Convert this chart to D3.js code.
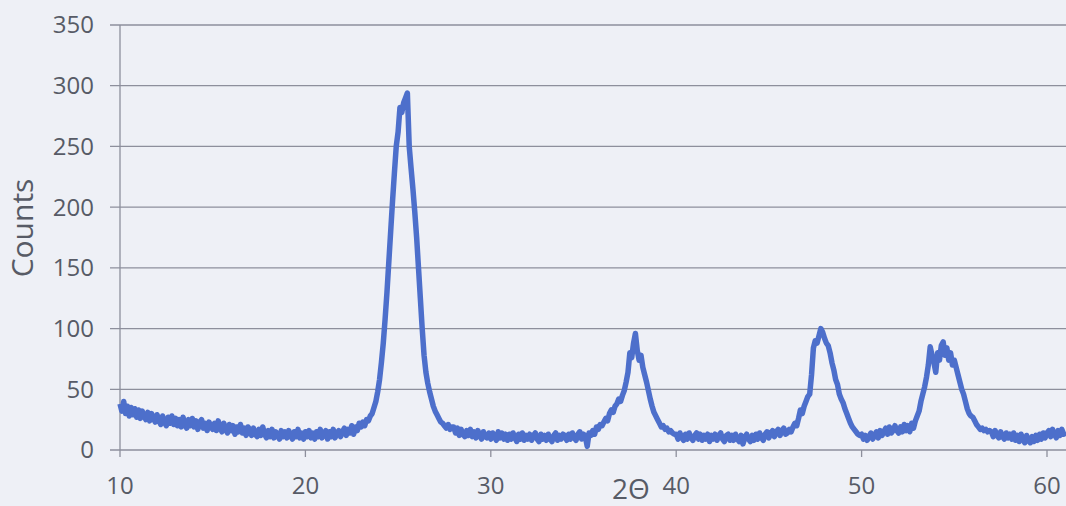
<!DOCTYPE html>
<html>
<head>
<meta charset="utf-8">
<script src="https://cdn.jsdelivr.net/npm/d3@7"></script>
<style>
  html, body { margin: 0; padding: 0; background: #eef0f6; }
  svg { display: block; }
  text { font-family: "Open Sans", sans-serif; fill: #575b66; }
</style>
</head>
<body>
<svg id="chart"></svg>
<script>
// XRD scan, 2theta from 10 to 61 in 0.1 deg steps (one row = one degree)
const thetaStart = 10;
const thetaStep = 0.1;
const counts = [
  38, 32, 40, 30, 36, 28, 35, 29, 34, 27,
  33, 26, 32, 28, 25, 31, 24, 30, 26, 23,
  29, 24, 21, 28, 23, 20, 27, 22, 28, 21,
  26, 20, 25, 19, 27, 21, 18, 25, 20, 26,
  19, 24, 17, 23, 25, 18, 22, 16, 23, 19,
  17, 22, 16, 24, 18, 15, 22, 17, 14, 21,
  16, 20, 13, 19, 15, 21, 14, 18, 12, 19,
  17, 12, 18, 13, 11, 17, 12, 19, 13, 10,
  16, 11, 17, 10, 15, 12, 9, 16, 11, 15,
  10, 16, 12, 9, 15, 11, 17, 10, 14, 9,
  15, 11, 16, 10, 14, 9, 15, 11, 17, 10,
  14, 16, 9, 15, 11, 17, 10, 14, 16, 11,
  15, 18, 12, 17, 14, 20, 13, 19, 16, 22,
  19, 23, 20, 25, 24, 28, 30, 35, 40, 48,
  58, 72, 88, 108, 130, 155, 180, 205, 228, 250,
  262, 282, 278, 286, 290, 294, 250, 232, 215, 196,
  175, 150, 125, 100, 78, 64, 55, 48, 42, 36,
  32, 29, 26, 23, 22, 20, 18, 21, 17, 19,
  19, 14, 18, 12, 17, 13, 11, 16, 12, 17,
  11, 15, 10, 16, 12, 9, 15, 11, 10, 14,
  9, 14, 11, 8, 15, 10, 14, 9, 13, 8,
  13, 9, 14, 10, 7, 13, 9, 14, 8, 12,
  9, 13, 8, 12, 14, 9, 7, 13, 9, 12,
  8, 13, 9, 7, 12, 14, 8, 12, 9, 13,
  12, 8, 13, 9, 14, 10, 8, 13, 15, 9,
  13, 11, 3, 14, 12, 16, 13, 19, 17, 21,
  20, 23, 26, 24, 30, 33, 31, 36, 38, 42,
  40, 45, 49, 56, 64, 80, 76, 88, 96, 82,
  74, 78, 68, 62, 56, 49, 42, 36, 31, 28,
  25, 22, 19, 20, 17, 18, 15, 16, 14, 13,
  13, 9, 14, 10, 8, 13, 9, 14, 10, 8,
  12, 14, 9, 13, 8, 12, 9, 13, 7, 12,
  9, 13, 8, 12, 14, 9, 7, 12, 13, 8,
  12, 8, 13, 9, 7, 12, 5, 10, 13, 9,
  7, 12, 8, 13, 9, 14, 10, 8, 13, 15,
  10, 14, 16, 11, 15, 17, 12, 16, 18, 13,
  14, 17, 15, 19, 22, 20, 26, 33, 30, 36,
  40, 44, 46, 62, 84, 90, 88, 94, 100, 97,
  92, 88, 86, 80, 72, 66, 58, 54, 46, 42,
  39, 34, 30, 26, 22, 19, 17, 15, 13, 12,
  13, 9, 12, 8, 11, 14, 9, 12, 15, 10,
  16, 12, 15, 18, 13, 19, 14, 16, 20, 16,
  14, 19, 15, 21, 16, 20, 15, 22, 18, 24,
  28, 32, 40, 46, 52, 60, 70, 85, 78, 72,
  64, 80, 74, 86, 89, 78, 84, 74, 80, 70,
  74, 68, 62, 56, 50, 46, 40, 34, 30, 28,
  27, 24, 21, 19, 17, 18, 16, 17, 15, 16,
  15, 11, 16, 12, 10, 15, 11, 9, 14, 10,
  13, 9, 14, 8, 12, 7, 13, 9, 6, 12,
  8, 6, 11, 7, 12, 8, 13, 9, 14, 10,
  14, 16, 11, 17, 13, 10, 16, 12, 17, 13,
  15
];
const xTicks = [10, 20, 30, 40, 50, 60];
const yTicks = [0, 50, 100, 150, 200, 250, 300, 350];

const width = 1066, height = 506;
const svg = d3.select('#chart').attr('width', width).attr('height', height);

const x = d3.scaleLinear().domain([10, 60]).range([120, 1047]);
const y = d3.scaleLinear().domain([0, 350]).range([450, 25]);

// horizontal gridlines (they start at the tick stubs left of the axis)
svg.append('g')
  .selectAll('line')
  .data(yTicks)
  .join('line')
    .attr('x1', 110).attr('x2', width)
    .attr('y1', d => y(d)).attr('y2', d => y(d))
    .attr('stroke', '#8d8f9c')
    .attr('stroke-width', 1.3);

// vertical axis line
svg.append('line')
  .attr('x1', x(10)).attr('x2', x(10))
  .attr('y1', y(350)).attr('y2', y(0) + 7)
  .attr('stroke', '#8d8f9c').attr('stroke-width', 1.3);

// x tick stubs
svg.append('g')
  .selectAll('line')
  .data(xTicks.slice(1))
  .join('line')
    .attr('x1', d => x(d)).attr('x2', d => x(d))
    .attr('y1', y(0)).attr('y2', y(0) + 7)
    .attr('stroke', '#8d8f9c').attr('stroke-width', 1.3);

// y tick labels
svg.append('g')
  .selectAll('text')
  .data(yTicks)
  .join('text')
    .attr('x', 94)
    .attr('y', d => y(d))
    .attr('dy', '0.35em')
    .attr('text-anchor', 'end')
    .style('font-size', '24px')
    .text(d => d);

// x tick labels
svg.append('g')
  .selectAll('text')
  .data(xTicks)
  .join('text')
    .attr('x', d => x(d))
    .attr('y', 486)
    .attr('dy', '0.35em')
    .attr('text-anchor', 'middle')
    .style('font-size', '24px')
    .text(d => d);

// axis titles
svg.append('text')
  .attr('transform', 'translate(22,228) rotate(-90)')
  .attr('dy', '0.35em')
  .attr('text-anchor', 'middle')
  .style('font-size', '30px')
  .text('Counts');

svg.append('text')
  .attr('x', 631)
  .attr('y', 499)
  .attr('text-anchor', 'middle')
  .style('font-size', '28px')
  .text('2\u0398');

// the scan itself
const points = counts.map((c, i) => [thetaStart + i * thetaStep, c]);
const line = d3.line()
  .x(d => x(d[0]))
  .y(d => y(d[1]));

svg.append('path')
  .datum(points)
  .attr('fill', 'none')
  .attr('stroke', '#4d6fcb')
  .attr('stroke-width', 5.5)
  .attr('stroke-linejoin', 'round')
  .attr('d', line);
</script>
</body>
</html>
